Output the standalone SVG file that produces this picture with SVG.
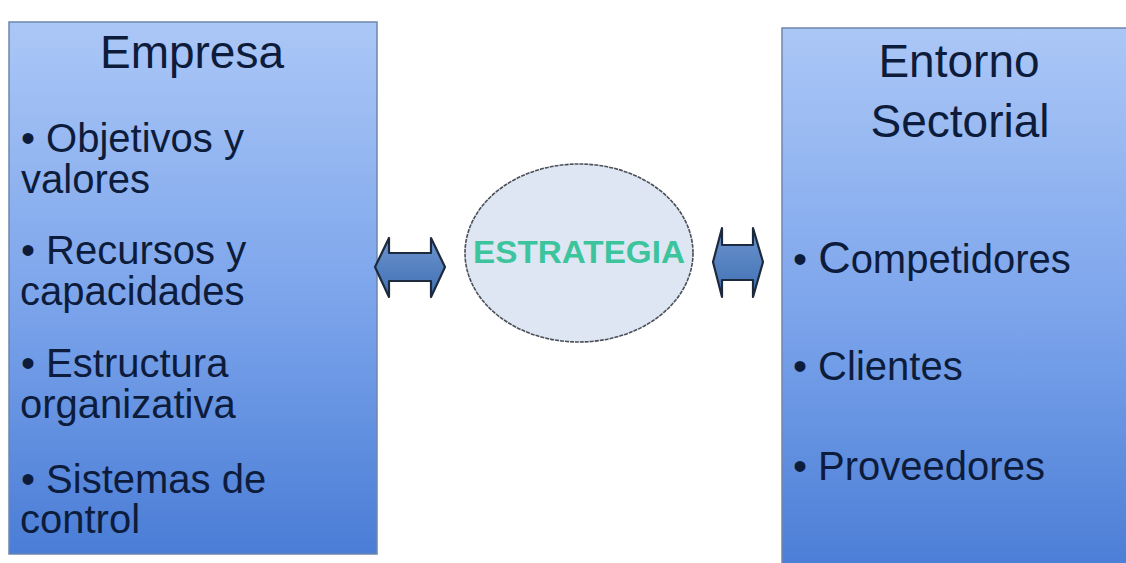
<svg xmlns="http://www.w3.org/2000/svg" width="1126" height="563" viewBox="0 0 1126 563">
  <defs>
    <linearGradient id="boxGrad" x1="0" y1="0" x2="0" y2="1">
      <stop offset="0" stop-color="#abc7f6"/>
      <stop offset="0.5" stop-color="#7ea6ec"/>
      <stop offset="1" stop-color="#4a7dd6"/>
    </linearGradient>
    <linearGradient id="arrowGrad" x1="0" y1="0" x2="0" y2="1">
      <stop offset="0" stop-color="#6d95cf"/>
      <stop offset="1" stop-color="#3f6fb3"/>
    </linearGradient>
  </defs>
  <style>
    .box { fill: url(#boxGrad); stroke: #6d86ad; stroke-width: 1.5; }
    .head { font-family: "Liberation Sans", Arial, sans-serif; font-size: 46px; fill: #0e1c3c; text-anchor: middle; }
    .item { font-family: "Liberation Sans", Arial, sans-serif; font-size: 40px; fill: #0e1c3c; }
    .arrow { fill: url(#arrowGrad); stroke: #1d2a3d; stroke-width: 2.2; stroke-linejoin: round; }
    .ell { fill: #dde6f2; stroke: #4a4f58; stroke-width: 1.6; stroke-dasharray: 4 1; }
    .strat { font-family: "Liberation Sans", Arial, sans-serif; font-size: 32px; font-weight: bold; fill: #3cc49c; }
  </style>
  <rect width="1126" height="563" fill="#ffffff"/>

  <g id="empresa">
    <rect class="box" x="9" y="22" width="368" height="532"/>
    <text class="head" x="192" y="68" font-size="47">Empresa</text>
    <text class="item" x="21" y="152">• Objetivos y</text>
    <text class="item" x="21" y="193">valores</text>
    <text class="item" x="21" y="264">• Recursos y</text>
    <text class="item" x="20" y="305">capacidades</text>
    <text class="item" x="21" y="377">• Estructura</text>
    <text class="item" x="20" y="418">organizativa</text>
    <text class="item" x="21" y="493">• Sistemas de</text>
    <text class="item" x="20" y="533">control</text>
  </g>

  <g id="entorno">
    <rect class="box" x="782" y="28" width="360" height="545"/>
    <text class="head" x="959" y="77">Entorno</text>
    <text class="head" x="960" y="137">Sectorial</text>
    <text class="item" x="793" y="273">• <tspan font-size="45">C</tspan>ompetidores</text>
    <text class="item" x="793" y="380">• Clientes</text>
    <text class="item" x="793" y="480">• Proveedores</text>
  </g>

  <g id="estrategia">
    <ellipse class="ell" cx="579" cy="253" rx="114" ry="89"/>
    <text class="strat" x="473" y="263" textLength="212" lengthAdjust="spacingAndGlyphs">ESTRATEGIA</text>
  </g>

  <g id="connectors">
    <path class="arrow" d="M375,267 L389,238 L389,253 L431,253 L431,238 L445,267 L431,297 L431,281 L389,281 L389,297 Z"/>
    <path class="arrow" d="M713,262 L722,228 L722,245 L753,245 L753,228 L763,262 L753,297 L753,280 L722,280 L722,297 Z"/>
  </g>
</svg>
